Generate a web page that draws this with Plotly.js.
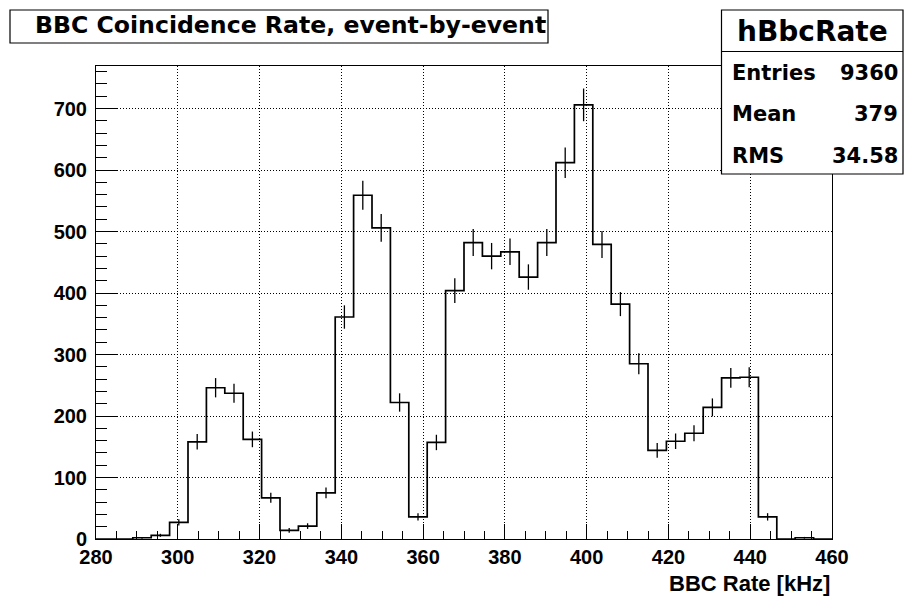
<!DOCTYPE html>
<html>
<head>
<meta charset="utf-8">
<script src="https://cdn.plot.ly/plotly-3.0.1.min.js"></script>
<style>
html,body{margin:0;padding:0;background:#fff;}
#chart{width:904px;height:601px;}
</style>
</head>
<body>
<div id="chart"></div>
<script>
// ---- data ----
const xMin = 280;
const xMax = 460;
const binWidth = 4.5;
const counts = [0,0,2,6,27,158,246,237,162,67,14,21,75,361,559,506,222,36,157,404,482,460,467,426,482,612,706,479,382,285,144,159,172,214,262,263,36,0,2,0];
const chartTitle = 'BBC Coincidence Rate, event-by-event';
const xTitle = 'BBC Rate [kHz]';
const statsName = 'hBbcRate';
const statsLabels = ['Entries', 'Mean', 'RMS'];
const statsValues = ['9360', '379', '34.58'];

// ---- derived ----
const edges = counts.map((c, i) => xMin + i * binWidth).concat([xMin + counts.length * binWidth]);
const stepY = counts.concat([counts[counts.length - 1]]);
const centers = counts.map((c, i) => xMin + (i + 0.5) * binWidth);
const errs = counts.map(c => Math.sqrt(c));
const yMax = 1.05 * Math.max(...counts.map(c => c + Math.sqrt(c)));

// ---- geometry helpers (pixel -> paper) ----
const W = 904, H = 601;
const M = {l: 96, r: 72, t: 66, b: 62};
const PW = W - M.l - M.r, PH = H - M.t - M.b;
const px = v => (v - M.l) / PW;
const py = v => (H - M.b - v) / PH;

const axisFont = {family: 'Liberation Sans, Arial, sans-serif', size: 20, color: '#000', weight: 'bold'};
const boxFont = {family: 'DejaVu Sans, sans-serif', color: '#000', weight: 'bold'};

const traces = [
  {
    x: edges, y: stepY, type: 'scatter', mode: 'lines',
    line: {shape: 'hv', color: '#000', width: 1.7},
    hoverinfo: 'skip', showlegend: false
  },
  {
    x: centers, y: counts, type: 'scatter', mode: 'markers',
    marker: {size: 1, color: 'rgba(0,0,0,0)'},
    error_y: {type: 'data', array: errs, visible: true, width: 0, thickness: 1.3, color: '#000'},
    hoverinfo: 'skip', showlegend: false
  }
];

const shapes = [
  // title box
  {type: 'rect', xref: 'paper', yref: 'paper', x0: px(10), x1: px(548), y0: py(43), y1: py(10),
   line: {color: '#000', width: 1.2}, fillcolor: '#fff', layer: 'above'},
  // stats box
  {type: 'rect', xref: 'paper', yref: 'paper', x0: px(721.5), x1: px(903), y0: py(174), y1: py(10),
   line: {color: '#000', width: 1.2}, fillcolor: '#fff', layer: 'above'},
  {type: 'line', xref: 'paper', yref: 'paper', x0: px(721.5), x1: px(903), y0: py(51.5), y1: py(51.5),
   line: {color: '#000', width: 1.2}, layer: 'above'}
];

const annotations = [
  {xref: 'paper', yref: 'paper', x: px(33), y: py(25), xanchor: 'left', yanchor: 'middle',
   text: chartTitle, showarrow: false, font: Object.assign({size: 23.6}, boxFont)},
  {xref: 'paper', yref: 'paper', x: px(812.3), y: py(31), xanchor: 'center', yanchor: 'middle',
   text: statsName, showarrow: false, font: Object.assign({size: 28}, boxFont)},
  {xref: 'paper', yref: 'paper', x: 1, y: py(583), xanchor: 'right', yanchor: 'middle',
   text: xTitle, showarrow: false, font: Object.assign({}, axisFont, {size: 22})}
];
const rowY = [73, 114, 156];
statsLabels.forEach((lab, i) => {
  annotations.push({xref: 'paper', yref: 'paper', x: px(730), y: py(rowY[i]), xanchor: 'left', yanchor: 'middle',
    text: lab, showarrow: false, font: Object.assign({size: 21}, boxFont)});
  annotations.push({xref: 'paper', yref: 'paper', x: px(900), y: py(rowY[i]), xanchor: 'right', yanchor: 'middle',
    text: statsValues[i], showarrow: false, font: Object.assign({size: 21}, boxFont)});
});

const layout = {
  width: W, height: H,
  margin: M,
  paper_bgcolor: '#fff', plot_bgcolor: '#fff',
  showlegend: false,
  xaxis: {
    range: [xMin, xMax], tick0: xMin, dtick: 20,
    ticks: 'inside', ticklen: 15, tickwidth: 1, tickcolor: '#000',
    minor: {dtick: 5, ticks: 'inside', ticklen: 8, tickwidth: 1, tickcolor: '#000', showgrid: false},
    showgrid: true, gridcolor: '#000', gridwidth: 1, griddash: '1px,2px',
    showline: true, linecolor: '#000', linewidth: 1, mirror: true,
    zeroline: false, tickfont: axisFont, ticklabelstandoff: 0
  },
  yaxis: {
    range: [0, yMax], tick0: 0, dtick: 100,
    ticks: 'inside', ticklen: 21, tickwidth: 1, tickcolor: '#000',
    minor: {dtick: 20, ticks: 'inside', ticklen: 11, tickwidth: 1, tickcolor: '#000', showgrid: false},
    showgrid: true, gridcolor: '#000', gridwidth: 1, griddash: '1px,2px',
    showline: true, linecolor: '#000', linewidth: 1, mirror: true,
    zeroline: false, tickfont: axisFont, ticklabelstandoff: 4
  },
  shapes: shapes,
  annotations: annotations
};

Plotly.newPlot('chart', traces, layout, {displayModeBar: false, staticPlot: true});
</script>
</body>
</html>
